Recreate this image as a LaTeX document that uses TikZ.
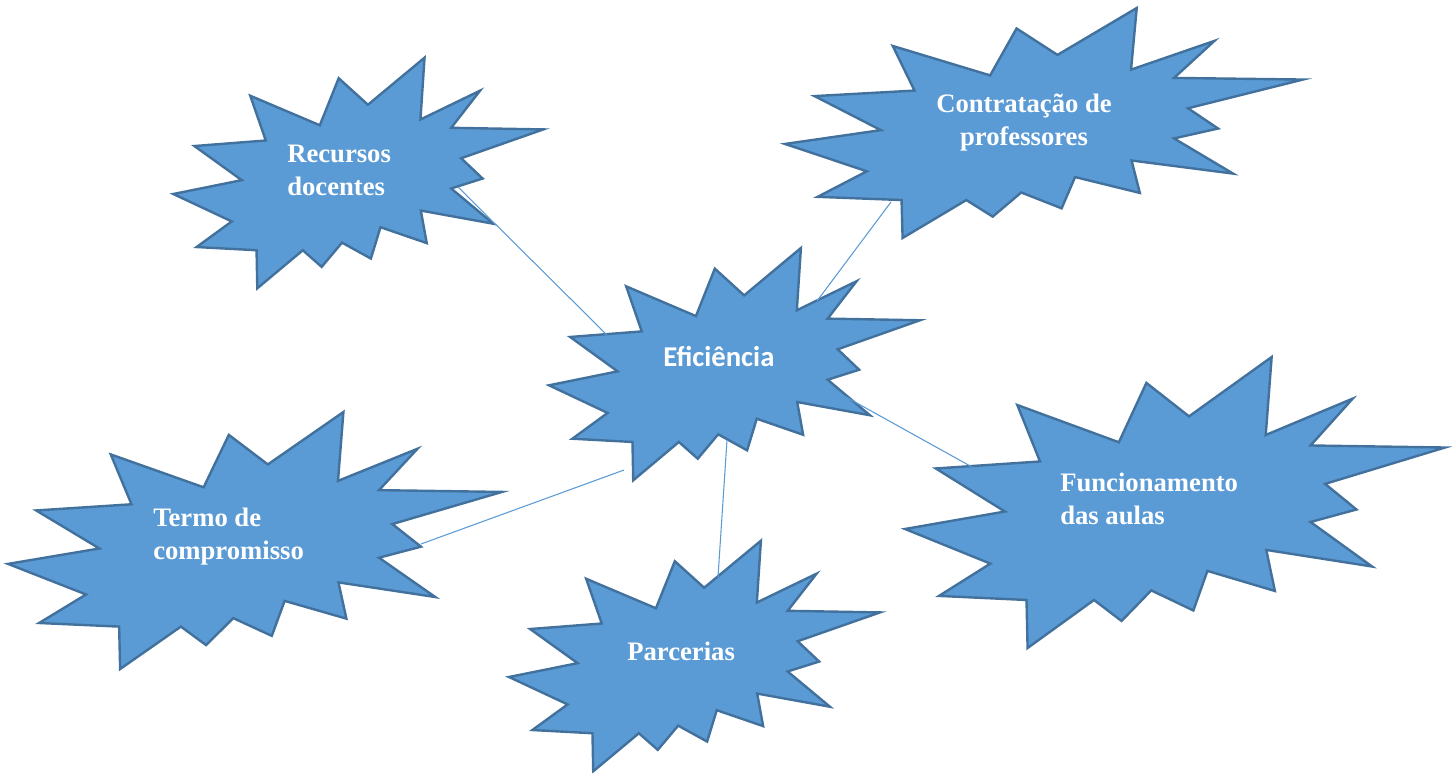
\documentclass[tikz,border=0pt]{standalone}
\usepackage{fontspec}
\setmainfont{Liberation Serif}
\newfontfamily\calibri{Carlito}

% one explosion outline, normalised to its bounding box
\newcommand{\explosion}[4]{%
  \begin{scope}[shift={(#1,#2)},x={(#3*0.75pt,0pt)},y={(0pt,-#4*0.75pt)}]
  \draw[burst] (0.679,0)
    -- (0.668,0.268) -- (0.829,0.143) -- (0.751,0.304) -- (1,0.311)
    -- (0.778,0.436) -- (0.836,0.524) -- (0.751,0.567) -- (0.865,0.720)
    -- (0.669,0.663) -- (0.685,0.804) -- (0.560,0.735) -- (0.534,0.871)
    -- (0.456,0.802) -- (0.401,0.907) -- (0.350,0.835) -- (0.227,1)
    -- (0.225,0.835) -- (0.063,0.821) -- (0.158,0.710) -- (0,0.591)
    -- (0.185,0.531) -- (0.057,0.383) -- (0.250,0.359) -- (0.208,0.165)
    -- (0.396,0.293) -- (0.447,0.089) -- (0.526,0.204) -- cycle;
  \end{scope}}

\begin{document}
\begin{tikzpicture}[
  x=0.75pt,y=-0.75pt,
  burst/.style={draw=burstLine,fill=burstFill,line width=1.8pt},
  link/.style={draw=burstFill,line width=0.8pt},
  tag/.style={text=white,inner sep=0pt,anchor=base west,align=left,
              font=\fontsize{20pt}{24.75pt}\selectfont\bfseries},
]
\definecolor{burstFill}{HTML}{5B9BD5}
\definecolor{burstLine}{HTML}{41719C}
\useasboundingbox (0,0) rectangle (1452,772);

\explosion{173.3}{57.7}{370}{230.6}
\explosion{785}{8}{518}{230}
\explosion{549}{248}{371}{232.3}
\explosion{905}{357}{540}{291}
\explosion{8}{412}{494}{257}
\explosion{509}{540.7}{371}{230.6}

% base of a two-line tag is the baseline of its last line
\node[tag] (recursos) at (287,195) {Recursos\\docentes};
\node[tag,align=center,anchor=base] (contrat) at (1024,145)
  {Contratação de\\professores};
\node[tag,font=\calibri\fontsize{21.5pt}{25pt}\selectfont\bfseries]
  (efic) at (663,366) {Eficiência};
\node[tag] (funcion) at (1060,524) {Funcionamento\\das aulas};
\node[tag] (termo) at (153,559.5) {Termo de\\compromisso};
\node[tag] (parc) at (627,660) {Parcerias};

% attachment points of the connectors
\coordinate (recE) at (458,187);  \coordinate (effR) at (607,335);
\coordinate (conE) at (891,202);  \coordinate (effC) at (817,301);
\coordinate (effF) at (846,397);  \coordinate (funE) at (972,467);
\coordinate (terE) at (421,544);  \coordinate (effT) at (624,470);
\coordinate (effP) at (727,440);  \coordinate (parE) at (718,577);

\draw[link] (recE) -- (effR);
\draw[link] (conE) -- (effC);
\draw[link] (effF) -- (funE);
\draw[link] (terE) -- (effT);
\draw[link] (effP) -- (parE);
\end{tikzpicture}
\end{document}
